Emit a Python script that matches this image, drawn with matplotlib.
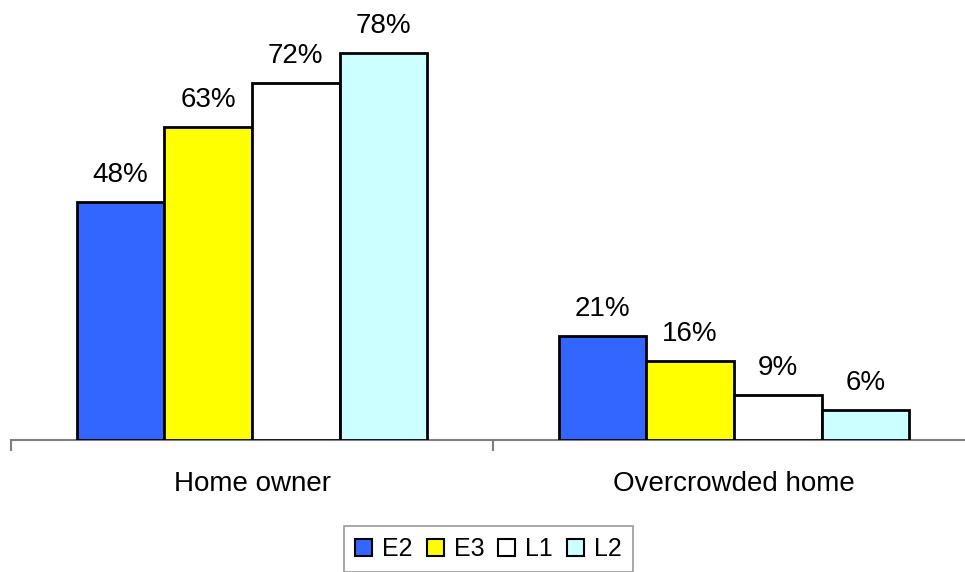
import matplotlib
matplotlib.use("Agg")
import matplotlib.pyplot as plt
from matplotlib.patches import Patch
import numpy as np

categories = ["Home owner", "Overcrowded home"]
series_names = ["E2", "E3", "L1", "L2"]
values = {
    "E2": [48, 21],
    "E3": [63, 16],
    "L1": [72, 9],
    "L2": [78, 6],
}
colors = ["#3366FF", "#FFFF00", "#FFFFFF", "#CCFFFF"]

plt.rcParams['font.family'] = ['Liberation Sans', 'DejaVu Sans']

fig = plt.figure(figsize=(9.65, 5.72), dpi=100)
ax = fig.add_axes([11/965, 1-440/572, 964/965, (440-18)/572])

x = np.arange(len(categories))
bw = 0.182
for i, s in enumerate(series_names):
    pos = x + (i - 1.5) * bw
    bars = ax.bar(pos, values[s], width=bw, color=colors[i], edgecolor="black", linewidth=2.0, zorder=3)
    for b, v in zip(bars, values[s]):
        ax.annotate(f"{v}%", (b.get_x() + b.get_width()/2, b.get_height()),
                    xytext=(0, 10), textcoords="offset points", ha="center", va="bottom",
                    fontsize=20)

ax.set_xlim(-0.5, len(categories) - 0.5)
ax.set_ylim(0, 85)
for sp in ["top", "right", "left"]:
    ax.spines[sp].set_visible(False)
ax.spines["bottom"].set_color("#808080")
ax.spines["bottom"].set_linewidth(1.5)
ax.set_yticks([])
ax.set_xticks(x)
ax.set_xticklabels(categories, fontsize=20)
ax.tick_params(axis="x", which="major", length=0, pad=22)
ax.set_xticks(np.arange(len(categories) + 1) - 0.5, minor=True)
ax.tick_params(axis="x", which="minor", length=8, width=1.5, color="#808080", direction="out")

handles = [Patch(facecolor=c, edgecolor="black", linewidth=1.5) for c in colors]
leg = fig.legend(handles, series_names, loc="upper left", bbox_to_anchor=(344/965, 1-526/572),
                 ncol=4, fontsize=18, frameon=True, fancybox=False, edgecolor="#808080",
                 handlelength=0.68, handleheight=0.68, handletextpad=0.4, columnspacing=0.56,
                 borderpad=0.44, borderaxespad=0)
leg.get_frame().set_linewidth(1.2)

fig.savefig("out.png", dpi=100)
